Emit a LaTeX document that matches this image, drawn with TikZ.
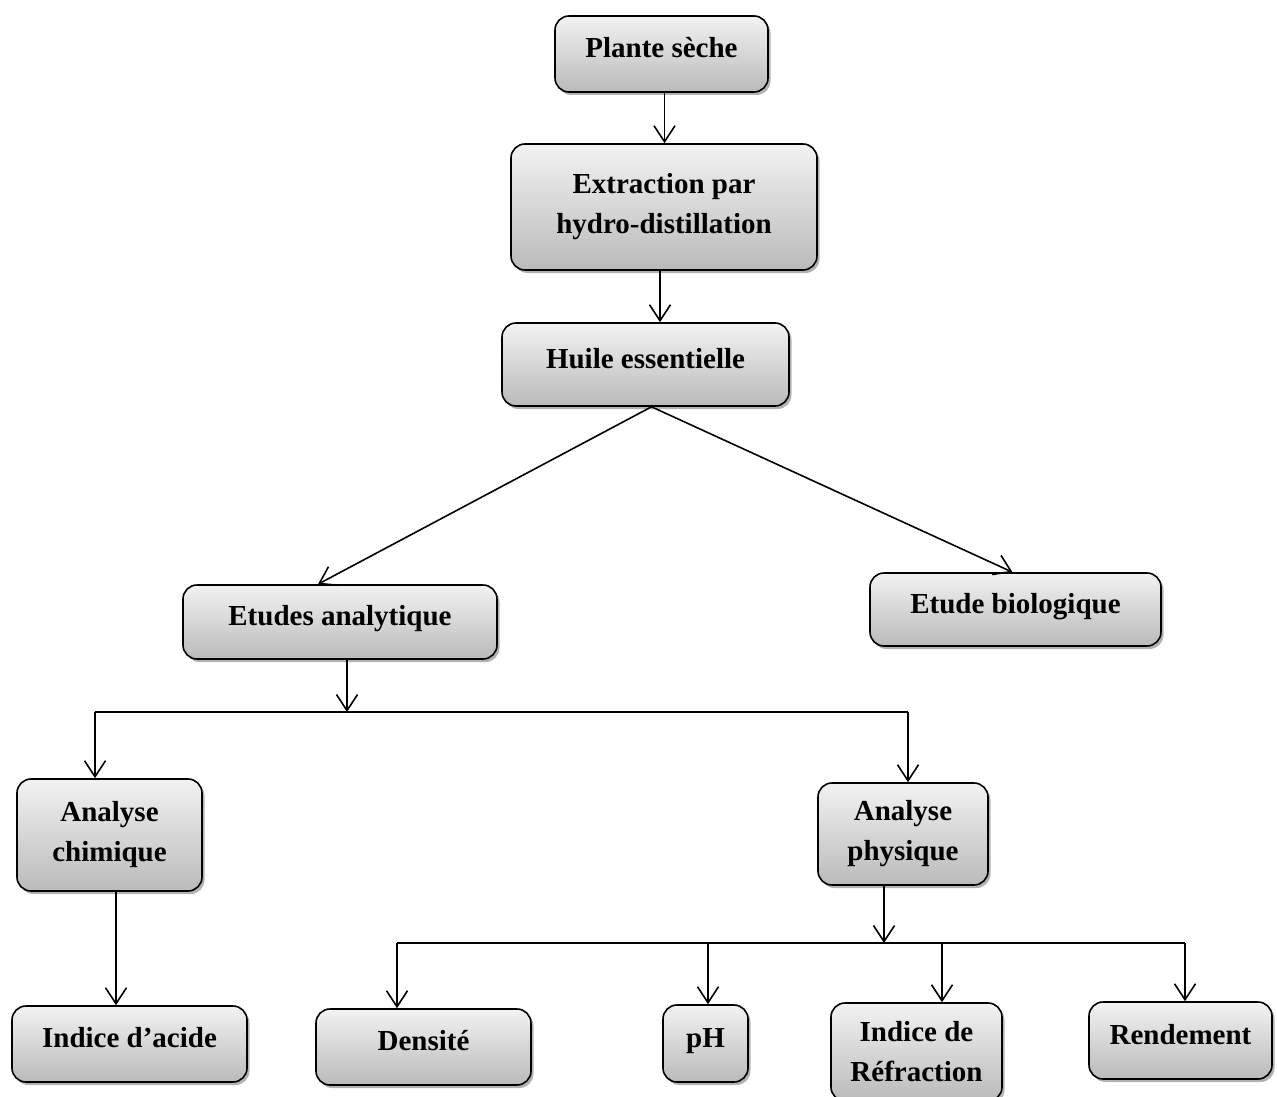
\documentclass[tikz,border=0pt]{standalone}
\usepackage{fontspec}
\setmainfont{Liberation Serif}
\usetikzlibrary{arrows.meta,shadows}
\definecolor{boxtop}{RGB}{242,242,242}
\definecolor{boxbottom}{RGB}{186,186,186}
\begin{document}
\begin{tikzpicture}[x=1pt,y=-1pt,
  box/.style={draw=black, line width=1.6pt, rounded corners=14pt,
    top color=boxtop, bottom color=boxbottom, inner sep=0pt, align=center,
    font=\fontsize{29}{40}\selectfont\bfseries,
    drop shadow={shadow xshift=2.5pt, shadow yshift=-3pt, opacity=0.3, fill=black}},
  oneline/.style={text height=20pt, text depth=13pt},
  link/.style={line width=1.6pt, -{Straight Barb[length=16pt,width=21pt,line width=1.6pt]}},
  bus/.style={line width=1.6pt}]
\useasboundingbox (0,0) rectangle (1277,1097);

% processing chain
\node[box, oneline, minimum width=213pt, minimum height=76pt] (plante) at (661.5,54) {Plante sèche};
\node[box, minimum width=306pt, minimum height=126pt] (extract) at (664,207) {Extraction par\\hydro-distillation};
\node[box, oneline, minimum width=287pt, minimum height=83pt] (huile) at (645.5,364.5) {Huile essentielle};

% two kinds of study
\node[box, oneline, minimum width=314pt, minimum height=74pt] (etudes) at (340,622) {Etudes analytique};
\node[box, oneline, minimum width=291pt, minimum height=73pt] (bio) at (1015.5,609.5) {Etude biologique};

% analyses
\node[box, minimum width=185pt, minimum height=112pt] (chim) at (109.5,835) {Analyse\\chimique};
\node[box, minimum width=170pt, minimum height=102pt] (phys) at (903,834) {Analyse\\physique};

% measured quantities
\node[box, oneline, minimum width=235pt, minimum height=76pt] (acide) at (129.5,1044) {Indice d’acide};
\node[box, oneline, minimum width=215pt, minimum height=76pt] (densite) at (423.5,1047) {Densité};
\node[box, oneline, minimum width=85pt, minimum height=77pt] (ph) at (705.5,1043.5) {pH};
\node[box, minimum width=171pt, minimum height=98pt] (refr) at (916.5,1052) {Indice de\\Réfraction};
\node[box, oneline, minimum width=183pt, minimum height=77pt] (rend) at (1180.5,1040.5) {Rendement};

% connectors of the chain
\draw[link] ([xshift=3pt]plante.south) -- ([xshift=3pt]plante.south |- extract.north);
\draw[link] ([xshift=-4pt]extract.south) -- ([xshift=-4pt]extract.south |- huile.north);
\coordinate (hsplit) at ([xshift=6pt]huile.south);
\draw[link] (hsplit) -- ([xshift=-22pt]etudes.north);
\draw[link] (hsplit) -- ([xshift=-3pt]bio.north);

% split below the analytical study
\coordinate (asplit) at (347,712);
\coordinate (aleft) at (95,712);
\coordinate (aright) at (908,712);
\draw[link] ([xshift=7pt]etudes.south) -- (asplit);
\draw[bus] (aleft) -- (aright);
\draw[link] (aleft) -- (aleft |- chim.north);
\draw[link] (aright) -- (aright |- phys.north);

\draw[link] ([xshift=6.5pt]chim.south) -- ([xshift=6.5pt]chim.south |- acide.north);

% split below the physical analysis
\coordinate (psplit) at (884,943);
\coordinate (pleft) at (397,943);
\coordinate (pright) at (1185,943);
\coordinate (pph) at (708,943);
\coordinate (prefr) at (942,943);
\draw[link] (phys.south -| psplit) -- (psplit);
\draw[bus] (pleft) -- (pright);
\draw[link] (pleft) -- (pleft |- densite.north);
\draw[link] (pph) -- (pph |- ph.north);
\draw[link] (prefr) -- (prefr |- refr.north);
\draw[link] (pright) -- (pright |- rend.north);
\end{tikzpicture}
\end{document}
